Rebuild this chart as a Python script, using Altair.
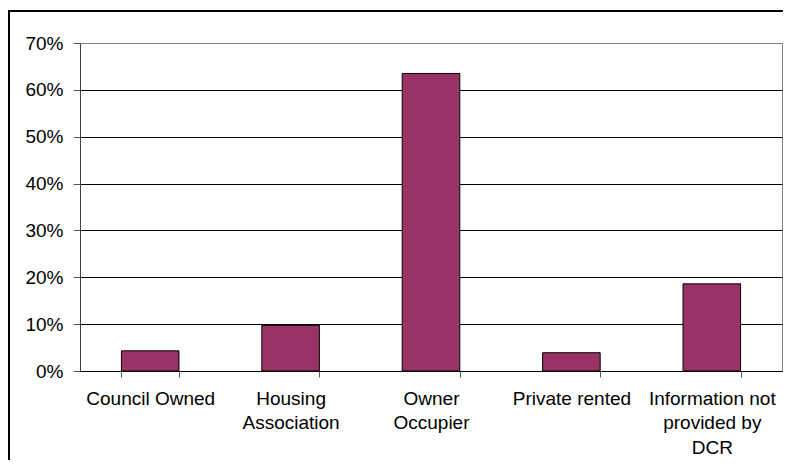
import altair as alt
import pandas as pd

categories = ["Council Owned", "Housing|Association", "Owner|Occupier",
              "Private rented", "Information not|provided by|DCR"]
shares = [0.043, 0.0975, 0.635, 0.039, 0.186]
y_ticks = [0, 0.1, 0.2, 0.3, 0.4, 0.5, 0.6, 0.7]

df = pd.DataFrame({"category": categories, "share": shares})

border = alt.Chart(pd.DataFrame({"a": [0]})).mark_rect(
    fill="transparent", stroke="black", strokeWidth=2
).encode(
    x=alt.value(-71), x2=alt.value(800), y=alt.value(-32), y2=alt.value(520)
)

bars = alt.Chart(df).mark_bar(fill="#993366", stroke="black", strokeWidth=1).encode(
    x=alt.X(
        "category:N", sort=categories,
        scale=alt.Scale(paddingInner=0.59, paddingOuter=0.295),
        axis=alt.Axis(
            title=None, labelAngle=0, labelExpr="split(datum.label, '|')",
            tickBand="extent", tickSize=6, tickColor="#555555",
            domainColor="black", labelPadding=12, labelFontSize=19,
            labelLineHeight=24.5, labelColor="black", labelBaseline="top",
            labelAlign="center", grid=False, labelLimit=300,
        ),
    ),
    y=alt.Y(
        "share:Q", scale=alt.Scale(domain=[0, 0.7], nice=False),
        axis=alt.Axis(
            values=y_ticks, format=".0%", title=None, grid=True,
            gridColor=alt.condition("datum.value >= 0.7", alt.value("#808080"), alt.value("black")),
            gridWidth=1, tickSize=7, tickColor="#555555", domainColor="#404040",
            labelPadding=10, labelFontSize=19, labelColor="black",
        ),
    ),
)

chart = alt.layer(border, bars).properties(
    width=702, height=328,
    autosize=alt.AutoSizeParams(type="none"),
    padding={"left": 72, "top": 35, "right": 1, "bottom": 89},
).configure(
    font="Liberation Sans",
).configure_view(
    stroke="#808080", strokeWidth=1,
)

chart.save("out.html", embed_options={"renderer": "svg", "actions": False})
